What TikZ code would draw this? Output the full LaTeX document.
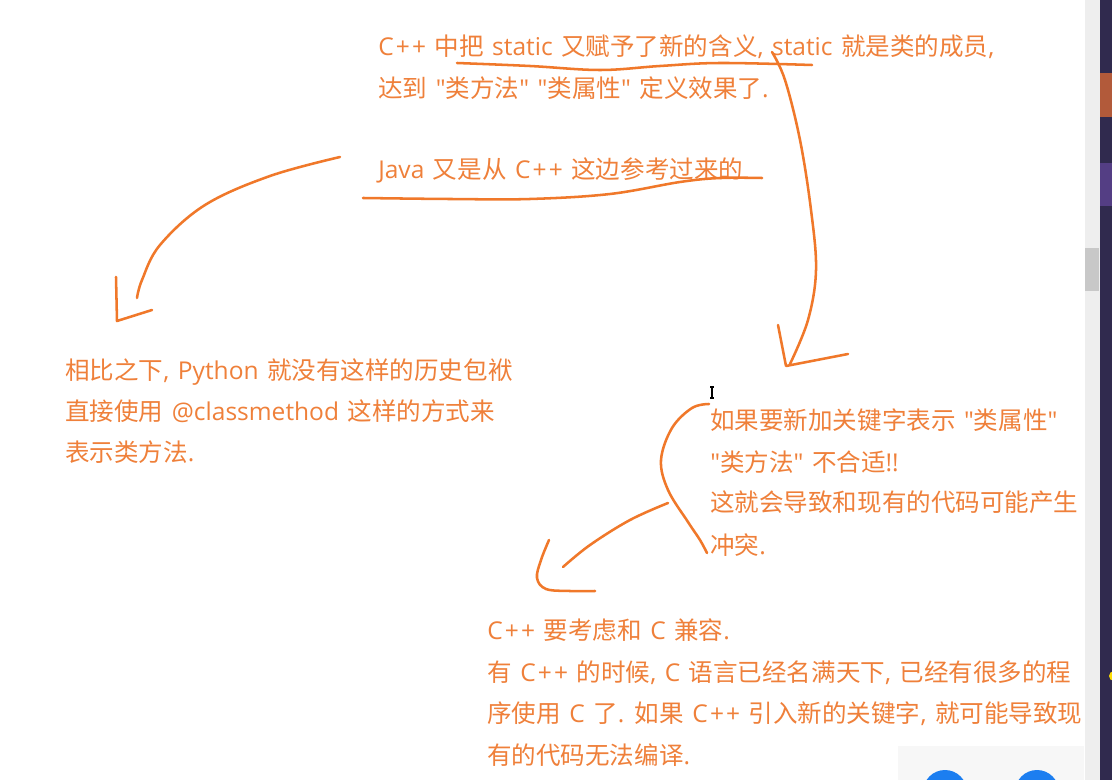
\documentclass[tikz,border=0pt]{standalone}
\usepackage{fontspec}
\setmainfont{Noto Sans CJK SC}
\newfontfamily\cjkfont{Noto Sans CJK SC}
\newfontfamily\enfont{Open Sans}
\newcommand\enrun[1]{{\enfont #1}}
\newcommand\cpp{{\enfont C\kern1.6pt+\kern1.6pt+}}
\newcommand\widespaces{\spaceskip=6.4pt plus 1pt\relax}
\definecolor{txtor}{RGB}{239,128,58}
\definecolor{strkor}{RGB}{240,120,42}
\definecolor{scrollbg}{RGB}{238,238,238}
\definecolor{scrollthumb}{RGB}{200,200,200}
\definecolor{darkpanel}{RGB}{48,42,78}
\definecolor{panelorange}{RGB}{178,90,58}
\definecolor{panelpurple}{RGB}{84,62,132}
\definecolor{btnblue}{RGB}{28,126,240}
\definecolor{lightpanel}{RGB}{247,247,247}
\tikzset{
  txt/.style={anchor=base west, inner sep=0pt, text=txtor, font=\cjkfont\fontsize{18.4}{22}\selectfont, execute at begin node=\widespaces},
  stroke/.style={draw=strkor, line width=1.9pt, line cap=round, line join=round},
}
\begin{document}
\begin{tikzpicture}[x=0.75pt,y=-0.75pt]
\useasboundingbox (0,0) rectangle (1112,780);
\fill[white] (0,0) rectangle (1112,780);
% right UI
\fill[scrollbg] (1085,0) rectangle (1100,780);
\fill[scrollthumb] (1085,248) rectangle (1099,291);
\fill[darkpanel] (1100,0) rectangle (1112,780);
\fill[panelorange] (1100,73) rectangle (1112,117);
\fill[panelpurple] (1100,163) rectangle (1112,206);
\fill[yellow!80!orange] (1114,676) circle (5);
\fill[lightpanel] (898,746) rectangle (1084,780);
\fill[btnblue] (945,792) circle (22);
\fill[btnblue] (1037,792) circle (22);

% texts
\node[txt] (a1) at (378,56) {\cpp{} 中把 \enrun{static} 又赋予了新的含义\enrun{,} \enrun{static} 就是类的成员\enrun{,}};
\node[txt] (a2) at (378,98) {达到 \enrun{"}类方法\enrun{"} \enrun{"}类属性\enrun{"} 定义效果了\enrun{.}};
\node[txt] (j1) at (378,179) {\enrun{Java} 又是从 \cpp{} 这边参考过来的};

\node[txt] (p1) at (65,379) {相比之下\enrun{,} \enrun{Python} 就没有这样的历史包袱};
\node[txt] (p2) at (65,420) {直接使用 \enrun{@classmethod} 这样的方式来};
\node[txt] (p3) at (65,461) {表示类方法\enrun{.}};

\node[txt] (k1) at (710,429) {如果要新加关键字表示 \enrun{"}类属性\enrun{"}};
\node[txt] (k2) at (710,471) {\enrun{"}类方法\enrun{"} 不合适\enrun{!!}};
\node[txt] (k3) at (710,511) {这就会导致和现有的代码可能产生};
\node[txt] (k4) at (710,554) {冲突\enrun{.}};

\node[txt] (c1) at (487,639) {\cpp{} 要考虑和 \enrun{C} 兼容\enrun{.}};
\node[txt] (c2) at (487,681) {有 \cpp{} 的时候\enrun{,} \enrun{C} 语言已经名满天下\enrun{,} 已经有很多的程};
\node[txt] (c3) at (487,722) {序使用 \enrun{C} 了\enrun{.} 如果 \cpp{} 引入新的关键字\enrun{,} 就可能导致现};
\node[txt] (c4) at (487,764) {有的代码无法编译\enrun{.}};

% text cursor
\draw[black, line width=0.8pt] (712,387) -- (712,398) (710,387) -- (714,387) (710,398) -- (714,398);

% hand-drawn strokes
% underline static ...
\draw[stroke] plot[smooth, tension=0.6] coordinates {(457,63) (530,66) (600,70) (660,66) (720,63) (812,65)};
% big curve to right arrow
\draw[stroke] plot[smooth, tension=0.6] coordinates {(772,52) (785,80) (800,140) (811,210) (816,270) (808,320) (790,364)};
\draw[stroke] (778,325) -- (786,366) -- (848,354);
% Java underline
\draw[stroke] plot[smooth, tension=0.6] coordinates {(363,198) (450,199) (530,199) (610,194) (680,182) (720,178) (762,178)};
% left curve
\draw[stroke] plot[smooth, tension=0.6] coordinates {(340,157) (270,176) (205,205) (160,245) (142,280) (137,298)};
\draw[stroke] (116,277) -- (117,321) -- (152,310);
% brace-like curve
\draw[stroke] plot[smooth, tension=0.6] coordinates {(709,404) (692,408) (672,428) (661,460) (668,490) (688,522) (700,540) (707,553)};
% lower arrow
\draw[stroke] plot[smooth, tension=0.6] coordinates {(668,503) (630,520) (590,545) (563,567)};
\draw[stroke] plot[smooth, tension=0.6] coordinates {(549,540) (541,560) (537,578) (546,589) (570,591) (595,591)};
\end{tikzpicture}
\end{document}
